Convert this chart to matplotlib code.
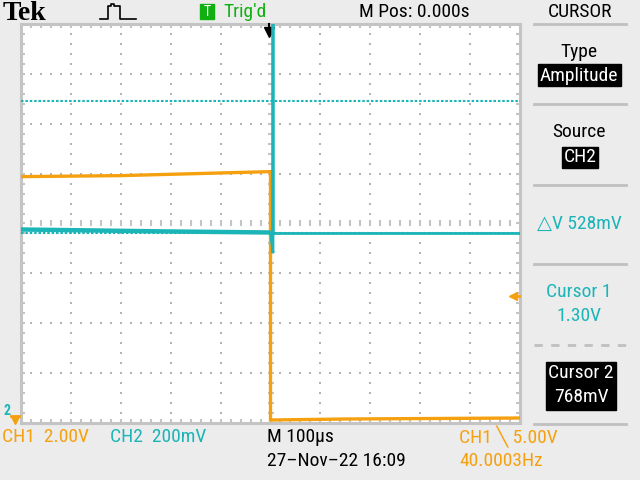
"""Tek scope screenshot: CH1/CH2 falling edge with amplitude cursors."""
import numpy as np
import matplotlib
matplotlib.use("Agg")
import matplotlib.pyplot as plt
from matplotlib.lines import Line2D
from matplotlib.patches import Rectangle
from matplotlib import font_manager
import matplotlib.transforms as mtransforms

COLORS = {
    "bg": "#ECECEC",
    "screen": "#FFFFFF",
    "frame": "#C4C4C4",
    "grid": "#B4B4B4",
    "ch1": "#F5A10F",
    "ch2": "#1BB5B8",
    "green": "#10B010",
    "text": "#000000",
}
names = {f.name for f in font_manager.fontManager.ttflist}
FONT = [n for n in ["Roboto Condensed", "DejaVu Sans Condensed", "Liberation Sans Narrow",
                    "Open Sans Condensed", "DejaVu Sans"] if n in names]
NARROW = FONT[0] != "DejaVu Sans"

# timebase / channel settings
time_per_div_us = 100
ch1_volts_per_div = 2.0
ch2_volts_per_div = 0.2
ch1_ground_div = -3.95
ch2_ground_div = -4.04

# traces (time in us, volts)
ch1_t = [-500, -300, -150, 0, 0, 150, 500]
ch1_v = [9.78, 9.82, 9.90, 9.98, 0.02, 0.06, 0.10]
ch2_t = [-500, -200, 0, 5, 5, 5, 500]
ch2_v = [0.784, 0.776, 0.772, 0.69, 1.70, 0.768, 0.768]

cursor_v = [1.30, 0.768]
trigger_level_v = 5.00
trigger_pos_us = 0.0

W, H = 640, 480
fig = plt.figure(figsize=(6.4, 4.8), dpi=100)
fig.patch.set_facecolor(COLORS["bg"])
FS = 14 if NARROW else 12


def fx(x):
    return x / W


def fy(y):
    return 1 - y / H


def txt(x, y, s, color=COLORS["text"], size=None, ha="left", **kw):
    fig.text(fx(x), fy(y), s, color=color, fontsize=size or FS, ha=ha, va="center",
             family=kw.pop("family", FONT), **kw)


def hline(x0, x1, y, ls="-"):
    fig.add_artist(Line2D([fx(x0), fx(x1)], [fy(y), fy(y)], color="#C0C0C0",
                          lw=2, ls=ls, transform=fig.transFigure))


# ---- screen / graticule ----
ax = fig.add_axes([fx(21), fy(423), 499 / W, 399 / H])
ax.set_facecolor(COLORS["screen"])
xmax = 5 * time_per_div_us
ax.set_xlim(-xmax, xmax)
ax.set_ylim(-4, 4)
ax.set_xticks([])
ax.set_yticks([])
for sp in ax.spines.values():
    sp.set_color(COLORS["frame"])
    sp.set_linewidth(2.2)

minor_x = np.arange(-xmax, xmax + 1, time_per_div_us / 5)
minor_y = np.arange(-4, 4.01, 0.2)
for gx in np.arange(-4, 5) * time_per_div_us:
    if gx == 0:
        continue
    ax.plot(np.full_like(minor_y, gx), minor_y, ls="none", marker="s", ms=1.5,
            color=COLORS["grid"], mew=0)
for gy in range(-3, 4):
    if gy == 0:
        continue
    ax.plot(minor_x, np.full_like(minor_x, gy), ls="none", marker="s", ms=1.5,
            color=COLORS["grid"], mew=0)
# center cross ticks
ax.plot(minor_x, np.zeros_like(minor_x), ls="none", marker="|", ms=4.5, mew=1.5,
        color=COLORS["frame"])
ax.plot(np.zeros_like(minor_y), minor_y, ls="none", marker="_", ms=4.5, mew=1.5,
        color=COLORS["frame"])
# edge ticks
for yy in (-4, 4):
    ax.plot(minor_x, np.full_like(minor_x, yy), ls="none", marker="|", ms=6, mew=1.5,
            color=COLORS["frame"])
for xx in (-xmax, xmax):
    ax.plot(np.full_like(minor_y, xx), minor_y, ls="none", marker="_", ms=6, mew=1.5,
            color=COLORS["frame"])

# ---- channel axes ----
ax1 = ax.twinx()
ax1.set_ylim((-4 - ch1_ground_div) * ch1_volts_per_div, (4 - ch1_ground_div) * ch1_volts_per_div)
ax2 = ax.twinx()
ax2.set_ylim((-4 - ch2_ground_div) * ch2_volts_per_div, (4 - ch2_ground_div) * ch2_volts_per_div)
for a in (ax1, ax2):
    a.set_yticks([])
    a.patch.set_visible(False)
    for sp in a.spines.values():
        sp.set_visible(False)

ax2.plot(ch2_t[:3], ch2_v[:3], color=COLORS["ch2"], lw=3.2, solid_capstyle="butt")
ax2.plot(ch2_t[2:], ch2_v[2:], color=COLORS["ch2"], lw=2.0, solid_joinstyle="miter")
for cv in cursor_v:
    ax2.axhline(cv, color=COLORS["ch2"], lw=1.5, ls=(0, (1.2, 0.9)))
ax1.plot(ch1_t, ch1_v, color=COLORS["ch1"], lw=2.4, solid_joinstyle="miter")

# trigger level marker (right edge)
tr1 = mtransforms.blended_transform_factory(ax1.transAxes, ax1.transData)
ax1.plot([0.985], [trigger_level_v], marker="<", ms=6, color=COLORS["ch1"],
         transform=tr1, clip_on=False)
ax1.plot([0.985, 0.998], [trigger_level_v] * 2, color=COLORS["ch1"], lw=2,
         transform=tr1, clip_on=False)
# trigger position marker (top)
trp = mtransforms.blended_transform_factory(ax.transData, ax.transAxes)
ax.plot([trigger_pos_us - 3, trigger_pos_us - 3], [1.0, 0.975], color="black", lw=1.5,
        transform=trp, clip_on=False, zorder=5)
ax.plot([trigger_pos_us - 3], [0.98], marker="v", ms=7, color="black", transform=trp,
        clip_on=False, zorder=5)
# ground markers
txt(7, 411, "2", color=COLORS["ch2"], size=10, ha="center", weight="bold")
fig.add_artist(Line2D([fx(11), fx(19)], [fy(416), fy(416)], color=COLORS["ch1"], lw=2))
fig.add_artist(Line2D([fx(15)], [fy(420)], marker="v", ms=6, color=COLORS["ch1"]))

# ---- header ----
txt(3, 13, "Tek", size=20, family=["Liberation Serif", "DejaVu Serif"], weight="bold")
pulse_x = [100, 108, 108, 111, 111, 114, 114, 117, 117, 120, 120, 136]
pulse_y = [19, 19, 6, 6, 4, 4, 6, 6, 6, 6, 19, 19]
fig.add_artist(Line2D([fx(v) for v in pulse_x], [fy(v) for v in pulse_y],
                      color="black", lw=1.2))
fig.add_artist(Rectangle((fx(200), fy(19)), 14 / W, 15 / H, color=COLORS["green"],
                         transform=fig.transFigure))
txt(207, 12, "T", color="white", size=10, ha="center")
txt(223, 12, "Trig'd", color=COLORS["green"])
txt(359, 12, "M Pos: 0.000s")
txt(580, 12, "CURSOR", ha="center")
hline(534, 626, 24)

# ---- right menu ----
cx = 579
txt(cx, 52, "Type", ha="center")
fig.add_artist(Rectangle((fx(538), fy(86)), 83 / W, 22 / H, color="black",
                         transform=fig.transFigure))
txt(cx, 76, "Amplitude", color="white", ha="center")
hline(534, 626, 104)
txt(cx, 132, "Source", ha="center")
fig.add_artist(Rectangle((fx(562), fy(168)), 36 / W, 21 / H, color="black",
                         transform=fig.transFigure))
txt(580, 157, "CH2", color="white", ha="center")
hline(534, 626, 185)
txt(cx, 224, "\u25b3V 528mV", color=COLORS["ch2"], ha="center")
hline(534, 626, 264)
txt(cx, 292, "Cursor 1", color=COLORS["ch2"], ha="center")
txt(cx, 316, "1.30V", color=COLORS["ch2"], ha="center")
hline(534, 626, 345, ls=(0, (3, 3)))
fig.add_artist(Rectangle((fx(546), fy(410)), 70 / W, 48 / H, color="black",
                         transform=fig.transFigure))
txt(581, 373, "Cursor 2", color="white", ha="center")
txt(581, 397, "768mV", color="white", ha="center")
hline(534, 626, 424)

# ---- footer ----
txt(2, 437, "CH1  2.00V", color=COLORS["ch1"])
txt(110, 437, "CH2  200mV", color=COLORS["ch2"])
txt(267, 437, "M 100\u00b5s")
txt(267, 461, "27\u2013Nov\u201322 16:09")
txt(459, 437, "CH1 \u2572 5.00V", color=COLORS["ch1"])
txt(459, 461, "40.0003Hz", color=COLORS["ch1"])

fig.savefig("out.png", dpi=100, facecolor=COLORS["bg"])
